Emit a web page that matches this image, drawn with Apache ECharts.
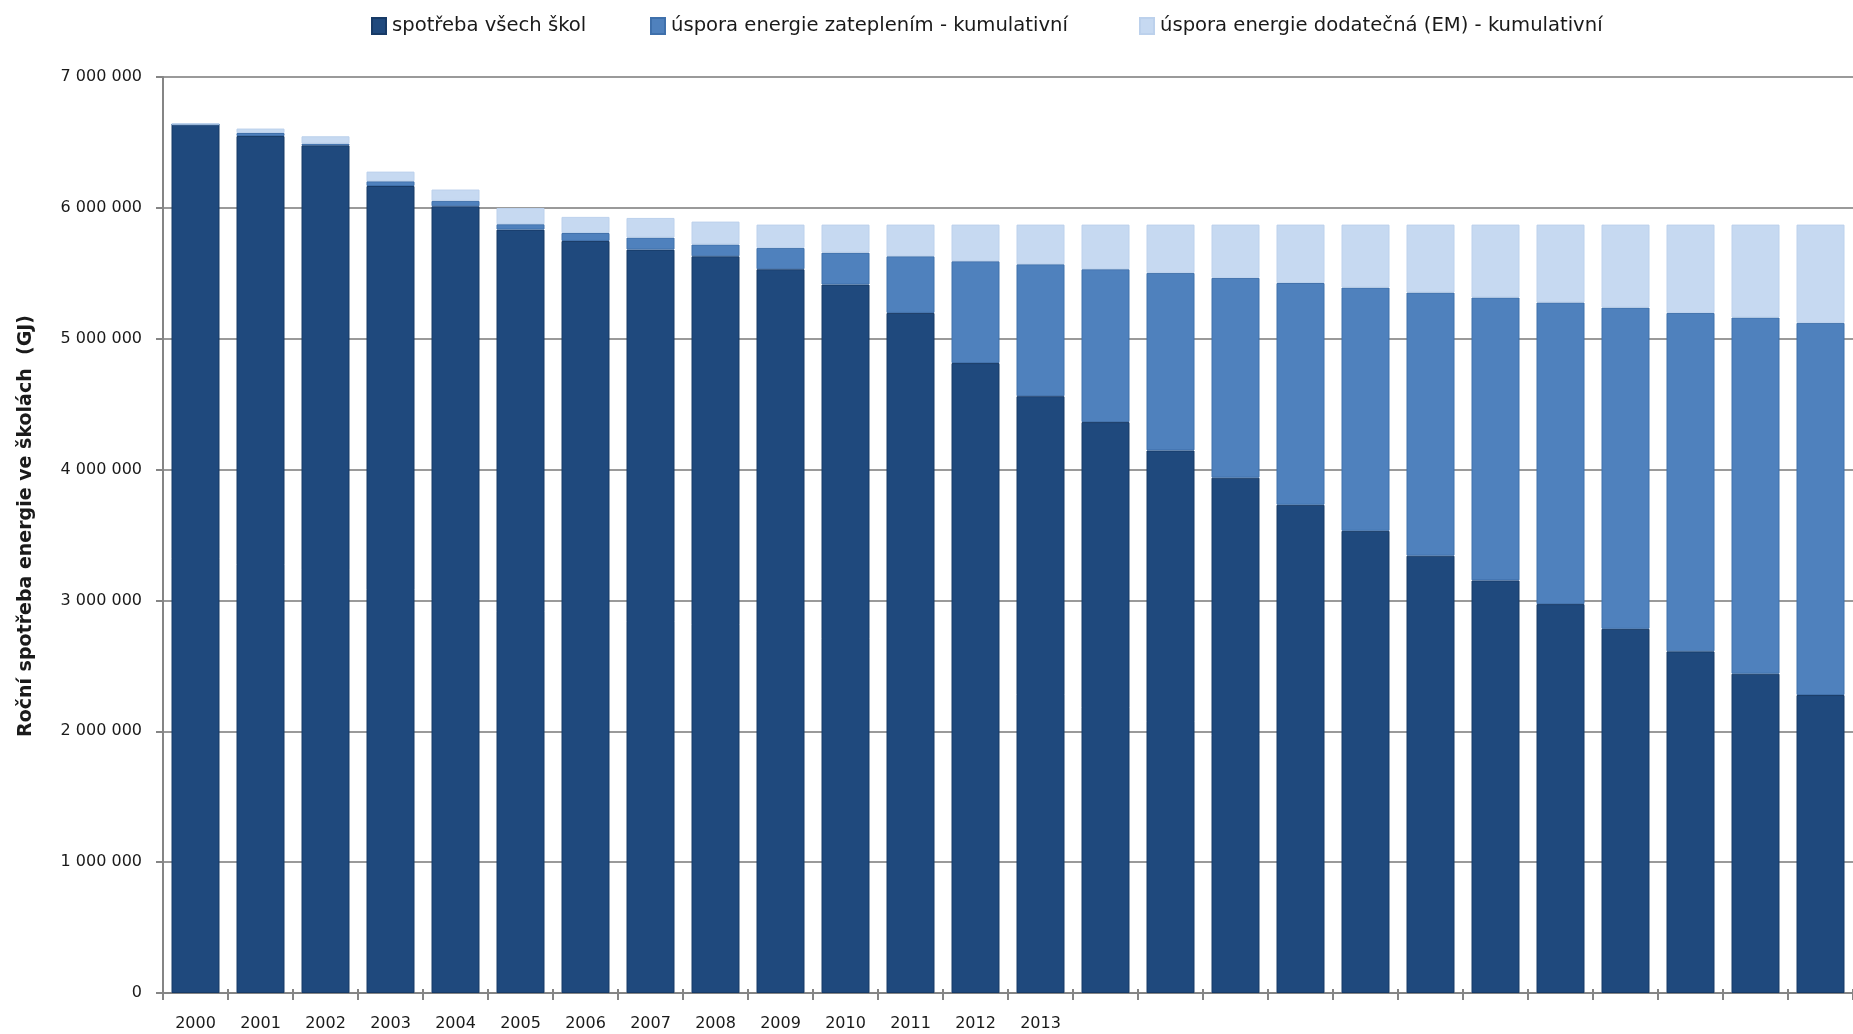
<!DOCTYPE html>
<html>
<head>
<meta charset="utf-8">
<script src="https://cdn.jsdelivr.net/npm/echarts@6/dist/echarts.min.js"></script>
<style>
  html, body { margin: 0; padding: 0; background: #ffffff; }
  #chart { width: 1853px; height: 1034px; }
</style>
</head>
<body>
<div id="chart"></div>
<script>
// Years on the category axis
const years = ['2000','2001','2002','2003','2004','2005','2006','2007','2008','2009',
               '2010','2011','2012','2013','2014','2015','2016','2017','2018','2019',
               '2020','2021','2022','2023','2024','2025'];
// Only these years carry a visible label
const labeledYears = ['2000','2001','2002','2003','2004','2005','2006','2007','2008','2009',
                      '2010','2011','2012','2013'];

// Annual energy consumption of all schools (GJ)
const spotreba = [6636000, 6549000, 6478000, 6167000, 6012000, 5834000, 5747000, 5681000,
                  5630000, 5531000, 5414000, 5197000, 4814000, 4561000, 4363000, 4146000,
                  3938000, 3731000, 3532000, 3342000, 3153000, 2972000, 2783000, 2611000,
                  2440000, 2277000];
// Cumulative savings from insulation (GJ)
const zatepleni = [0, 23000, 13000, 36000, 41000, 41000, 61000, 92000,
                   90000, 163000, 244000, 433000, 778000, 1008000, 1168000, 1357000,
                   1527000, 1695000, 1859000, 2011000, 2162000, 2305000, 2455000, 2586000,
                   2722000, 2844000];
// Cumulative additional savings from energy management (GJ)
const dodatecna = [12000, 34000, 56000, 74000, 87000, 124000, 123000, 150000,
                   175000, 178000, 214000, 242000, 280000, 303000, 341000, 369000,
                   407000, 446000, 481000, 519000, 557000, 595000, 634000, 675000,
                   710000, 751000];

const seriesNames = ['spotřeba všech škol',
                     'úspora energie zateplením - kumulativní',
                     'úspora energie dodatečná (EM) - kumulativní'];
const axisName = 'Roční spotřeba energie ve školách  (GJ)';

const FONT = 'DejaVu Sans';
const COLORS = ['#1f497d', '#4f81bd', '#c6d9f1'];
const BORDERS = ['#173a66', '#3f70ab', '#bcd1ec'];

function groupThousands(v) {
  return String(v).replace(/\B(?=(\d{3})+(?!\d))/g, ' ');
}

function legendAt(idx, left) {
  return {
    data: [seriesNames[idx]],
    left: left,
    top: 11,
    itemWidth: 14,
    itemHeight: 16,
    itemGap: 0,
    icon: 'rect',
    selectedMode: false,
    textStyle: { fontFamily: FONT, fontSize: 19.6, color: '#1a1a1a', padding: [0, 0, 0, 1] }
  };
}

const chart = echarts.init(document.getElementById('chart'), null, { renderer: 'canvas' });

const option = {
  animation: false,
  backgroundColor: '#ffffff',
  legend: [legendAt(0, 366), legendAt(1, 645), legendAt(2, 1134)],
  grid: { left: 163, top: 77, height: 916, width: 1700 },
  xAxis: [
    {
      type: 'category',
      data: years,
      axisLine: { lineStyle: { color: '#858585', width: 2 } },
      axisTick: { show: true, alignWithLabel: false, length: 7, lineStyle: { color: '#858585', width: 2 } },
      axisLabel: {
        interval: 0,
        margin: 23,
        fontFamily: FONT,
        fontSize: 16,
        color: '#1a1a1a',
        formatter: function (v) { return labeledYears.indexOf(v) >= 0 ? v : ''; }
      },
      splitLine: { show: false }
    },
    {
      type: 'category',
      data: years,
      position: 'bottom',
      axisLine: { show: false },
      axisTick: { show: true, inside: true, length: 4, lineStyle: { color: '#858585', width: 2 } },
      axisLabel: { show: false },
      splitLine: { show: false }
    }
  ],
  yAxis: {
    type: 'value',
    min: 0,
    max: 7000000,
    interval: 1000000,
    name: axisName,
    nameLocation: 'middle',
    nameRotate: 90,
    nameGap: 127,
    nameTextStyle: {
      fontFamily: FONT, fontSize: 19, fontWeight: 'bold', color: '#1a1a1a',
      padding: [0, 0, 0, 18]
    },
    axisLine: { show: true, lineStyle: { color: '#858585', width: 2 } },
    axisTick: { show: true, length: 7, lineStyle: { color: '#858585', width: 2 } },
    axisLabel: {
      margin: 21,
      fontFamily: FONT,
      fontSize: 16,
      color: '#1a1a1a',
      formatter: groupThousands
    },
    splitLine: { show: true, lineStyle: { color: '#9a9a9a', width: 2 } }
  },
  series: [
    {
      name: seriesNames[0], type: 'bar', stack: 'total', data: spotreba, barWidth: 48,
      itemStyle: { color: COLORS[0], borderColor: BORDERS[0], borderWidth: 1 },
      emphasis: { disabled: true }
    },
    {
      name: seriesNames[1], type: 'bar', stack: 'total', data: zatepleni, barWidth: 48,
      itemStyle: { color: COLORS[1], borderColor: BORDERS[1], borderWidth: 1 },
      emphasis: { disabled: true }
    },
    {
      name: seriesNames[2], type: 'bar', stack: 'total', data: dodatecna, barWidth: 48,
      itemStyle: { color: COLORS[2], borderColor: BORDERS[2], borderWidth: 1 },
      emphasis: { disabled: true }
    }
  ]
};

chart.setOption(option);
</script>
</body>
</html>
